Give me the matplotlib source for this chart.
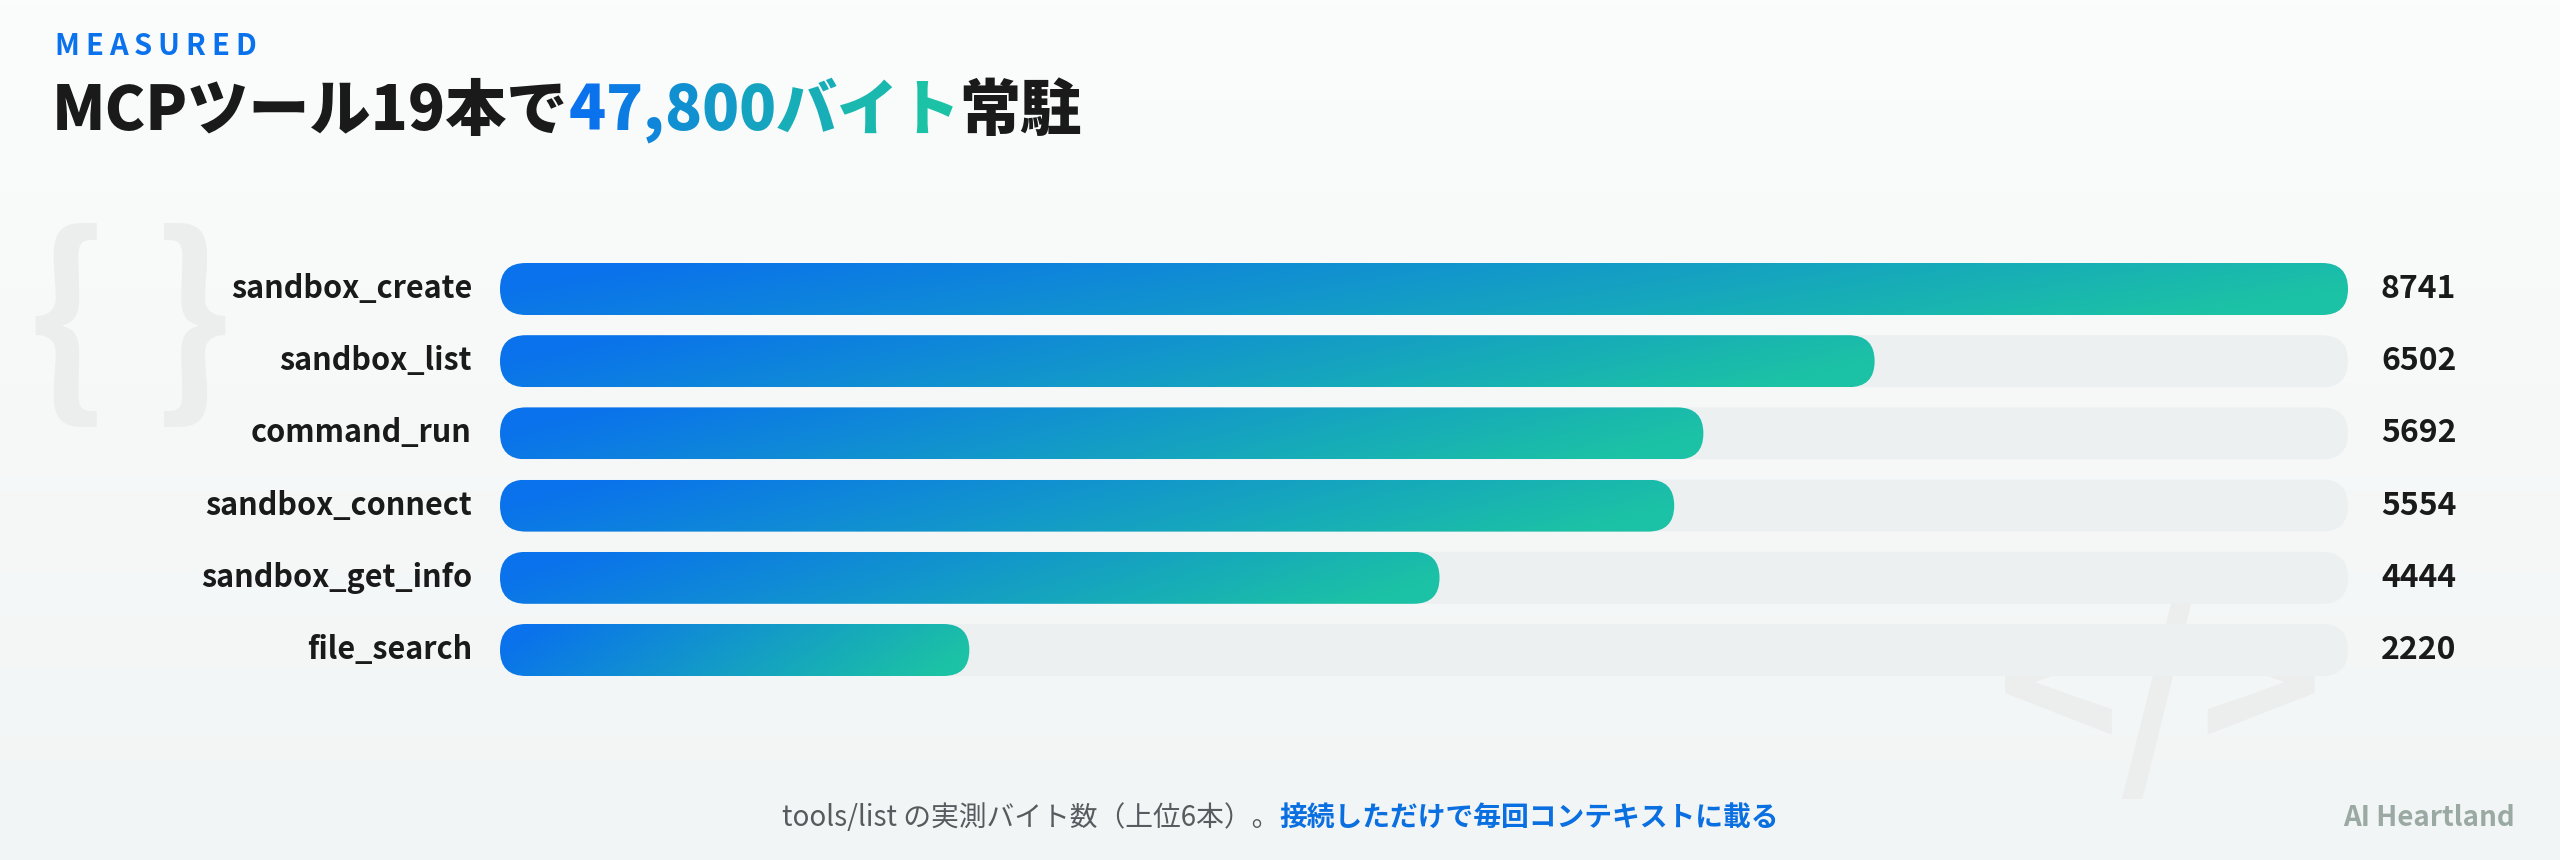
import numpy as np
import matplotlib.pyplot as plt
from matplotlib.patches import FancyBboxPatch
from matplotlib.colors import LinearSegmentedColormap

plt.rcParams['font.family'] = ['Noto Sans CJK JP', 'DejaVu Sans']

tools = ["sandbox_create", "sandbox_list", "command_run", "sandbox_connect", "sandbox_get_info", "file_search"]
bytes_ = [8741, 6502, 5692, 5554, 4444, 2220]

BLUE = "#0a72ec"
TEAL = "#1cc2a5"
cmap = LinearSegmentedColormap.from_list("bar", [BLUE, TEAL])

W, H = 2560, 860
fig = plt.figure(figsize=(W / 100, H / 100), dpi=100)
fig.patch.set_facecolor("#f6f8f8")

# background layer in pixel coords
bg = fig.add_axes([0, 0, 1, 1])
bg.set_xlim(0, W)
bg.set_ylim(H, 0)
bg.axis("off")
grad = np.linspace(0, 1, 200)[:, None]
bg.imshow(grad, extent=(0, W, H, 0), cmap=LinearSegmentedColormap.from_list("bg", ["#fbfcfc", "#f2f5f5"]),
          aspect="auto", zorder=0)
bg.text(130, 330, "{ }", fontsize=150, color="#eceeee", ha="center", va="center", fontweight="bold", zorder=1)
bg.text(2160, 700, "</>", fontsize=150, color="#eceeee", ha="center", va="center", fontweight="bold", zorder=1)

renderer = fig.canvas.get_renderer()

# spaced kicker
x = 54
for ch in "MEASURED":
    t = bg.text(x, 46, ch, fontsize=21, fontweight="bold", color="#0a72ec", va="center", zorder=3)
    x += t.get_window_extent(renderer).width + 6

# title with coloured middle part
x = 52
parts = [("MCPツール19本で", None), ("47,800バイト", "grad"), ("常駐", None)]
for txt, col in parts:
    chars = [txt] if col is None else list(txt)
    for i, ch in enumerate(chars):
        c = "#1a1a1a" if col is None else cmap(i / (len(chars) - 1))
        t = bg.text(x, 112, ch, fontsize=44, fontweight="heavy", color=c, va="center", ha="left", zorder=3)
        x += t.get_window_extent(renderer).width

# bars axes
left, right = 500, 2348
top, bottom = 200, 740
ax = fig.add_axes([left / W, 1 - bottom / H, (right - left) / W, (bottom - top) / H])
ax.patch.set_alpha(0)
ax.axis("off")
xmax = max(bytes_)
row_px = 72.2
y_top = -(289 - top) / row_px

xu = xmax / (right - left)      # x data units per pixel
yu = 1 / row_px                 # y data units per pixel
h = 52 * yu
r = 26 * xu
aspect = yu / xu

for i, (name, v) in enumerate(zip(tools, bytes_)):
    track = FancyBboxPatch((0, i - h / 2), xmax, h, boxstyle=f"round,pad=0,rounding_size={r}",
                           mutation_aspect=aspect, fc="#edf0f1", ec="none", zorder=1)
    ax.add_patch(track)
    bar = FancyBboxPatch((0, i - h / 2), v, h, boxstyle=f"round,pad=0,rounding_size={r}",
                         mutation_aspect=aspect, fc="none", ec="none", zorder=2)
    ax.add_patch(bar)
    g = np.linspace(0, 1, 256)[None, :]
    g = g + np.linspace(-0.08, 0.08, 20)[:, None]
    im = ax.imshow(np.clip(g, 0, 1), extent=(0, v, i + h / 2, i - h / 2), cmap=cmap, aspect="auto",
                   zorder=2, interpolation="bilinear")
    im.set_clip_path(bar)
    ax.text(-28 / (right - left), i, name, transform=ax.get_yaxis_transform(), ha="right", va="center",
            fontsize=22, fontweight="bold", color="#1a1a1a")
    ax.text(1 + 33 / (right - left), i, str(v), transform=ax.get_yaxis_transform(), ha="left", va="center",
            fontsize=23, fontweight="bold", color="#1a1a1a")
ax.set_xlim(0, xmax)
ax.set_ylim(y_top + (bottom - top) / row_px, y_top)

# footer
f1 = "tools/list の実測バイト数（上位6本）。"
f2 = "接続しただけで毎回コンテキストに載る"
t1 = bg.text(0, 818, f1, fontsize=20, color="#555b5e", va="center")
t2 = bg.text(0, 818, f2, fontsize=20, color="#0a6fe0", fontweight="bold", va="center")
w1 = t1.get_window_extent(renderer).width
w2 = t2.get_window_extent(renderer).width
x0 = 1280 - (w1 + w2) / 2
t1.set_x(x0)
t2.set_x(x0 + w1)
bg.text(2515, 818, "AI Heartland", fontsize=20, fontweight="bold", color="#9aa9a2", ha="right", va="center")

fig.savefig("out.png", dpi=100, facecolor=fig.get_facecolor())
